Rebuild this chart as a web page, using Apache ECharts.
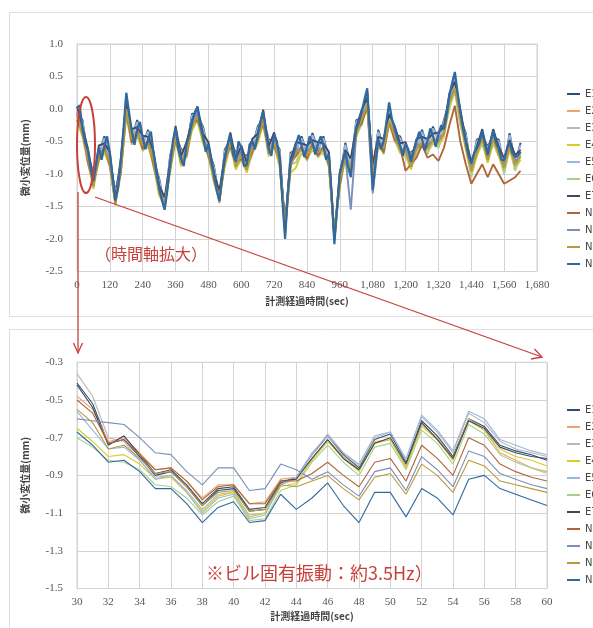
<!DOCTYPE html>
<html>
<head>
<meta charset="utf-8">
<script src="https://cdn.jsdelivr.net/npm/echarts/dist/echarts.min.js"></script>
<style>
html,body{margin:0;padding:0;background:#fff;overflow:hidden}
#chart{width:640px;height:628px}
</style>
</head>
<body>
<div id="chart"></div>
<script>
// Sensor channels and their line colours
const channelNames = ['E1','E2','E3','E4','E5','E6','E7','N1','N2','N3','N4'];
const channelColors = ['#2c4d75','#f0a36a','#b8b8b8','#d8cc2a','#9ab7de','#a8cf8c','#3b4a63','#b0643a','#7d8fb8','#b89a3c','#31699f'];

// Whole record in mm; N4 is logged every 10 s, the other channels every 20 s
const overviewSteps = [20,20,20,20,20,20,20,20,20,20,10];
const overviewE1 = [-0.09,-0.17,-0.74,-0.97,-0.69,-0.42,-0.79,-1.27,-0.89,0.18,
-0.44,-0.17,-0.54,-0.32,-0.79,-1.07,-1.50,-0.72,-0.39,-0.62,
-0.64,-0.07,-0.09,-0.27,-0.64,-0.87,-1.39,-0.62,-0.49,-0.67,
-0.69,-0.72,-0.59,-0.27,-0.14,-0.47,-0.49,-0.62,-1.90,-0.67,
-0.64,-0.42,-0.69,-0.37,-0.64,-0.42,-0.79,-2.02,-1.09,-0.52,
-0.89,-0.17,-0.14,0.26,-0.99,-0.32,-0.59,0.03,-0.39,-0.42,
-0.64,-0.67,-0.59,-0.32,-0.59,-0.27,-0.49,-0.17,0.11,0.50,
-0.14,-0.37,-0.94,-0.47,-0.44,-0.57,-0.44,-0.47,-0.89,-0.37,
-0.84,-0.52];
const overviewE2 = [-0.15,-0.31,-0.80,-1.11,-0.75,-0.56,-0.85,-1.41,-0.95,-0.05,
-0.50,-0.31,-0.60,-0.46,-0.85,-1.21,-1.55,-0.86,-0.45,-0.76,
-0.70,-0.21,-0.15,-0.41,-0.70,-1.01,-1.45,-0.76,-0.55,-0.81,
-0.75,-0.86,-0.65,-0.41,-0.20,-0.61,-0.55,-0.76,-1.95,-0.81,
-0.70,-0.56,-0.75,-0.51,-0.70,-0.56,-0.85,-2.01,-1.15,-0.66,
-0.95,-0.31,-0.20,0.14,-1.05,-0.46,-0.65,-0.11,-0.45,-0.56,
-0.70,-0.81,-0.65,-0.46,-0.65,-0.41,-0.55,-0.31,0.05,0.39,
-0.20,-0.51,-1.00,-0.61,-0.50,-0.71,-0.50,-0.61,-0.95,-0.51,
-0.90,-0.66];
const overviewE3 = [-0.02,-0.27,-0.67,-1.07,-0.62,-0.52,-0.72,-1.37,-0.82,0.03,
-0.37,-0.27,-0.47,-0.42,-0.72,-1.17,-1.42,-0.82,-0.32,-0.72,
-0.57,-0.17,-0.02,-0.37,-0.57,-0.97,-1.32,-0.72,-0.42,-0.77,
-0.62,-0.82,-0.52,-0.37,-0.07,-0.57,-0.42,-0.72,-1.82,-0.77,
-0.57,-0.52,-0.62,-0.47,-0.57,-0.52,-0.72,-1.97,-1.02,-0.62,
-0.82,-0.27,-0.07,0.18,-0.92,-0.42,-0.52,-0.07,-0.32,-0.52,
-0.57,-0.77,-0.52,-0.42,-0.52,-0.37,-0.42,-0.27,0.18,0.43,
-0.07,-0.47,-0.87,-0.57,-0.37,-0.67,-0.37,-0.57,-0.82,-0.47,
-0.77,-0.62];
const overviewE4 = [-0.17,-0.43,-0.82,-1.23,-0.77,-0.68,-0.87,-1.45,-0.97,-0.13,
-0.52,-0.43,-0.62,-0.58,-0.87,-1.33,-1.50,-0.98,-0.47,-0.88,
-0.72,-0.33,-0.17,-0.53,-0.72,-1.13,-1.40,-0.88,-0.57,-0.93,
-0.77,-0.98,-0.67,-0.53,-0.22,-0.73,-0.57,-0.88,-1.80,-0.98,
-0.90,-0.68,-0.77,-0.63,-0.72,-0.68,-0.87,-1.90,-1.17,-0.78,
-0.97,-0.43,-0.22,0.02,-1.07,-0.58,-0.67,-0.23,-0.47,-0.68,
-0.72,-0.93,-0.67,-0.58,-0.67,-0.53,-0.57,-0.43,0.03,0.27,
-0.22,-0.63,-1.02,-0.73,-0.52,-0.83,-0.52,-0.73,-0.97,-0.63,
-0.92,-0.78];
const overviewE5 = [-0.07,-0.20,-0.72,-1.00,-0.67,-0.45,-0.77,-1.30,-0.87,0.10,
-0.42,-0.20,-0.52,-0.35,-0.77,-1.10,-1.47,-0.75,-0.37,-0.65,
-0.62,-0.10,-0.07,-0.30,-0.62,-0.90,-1.37,-0.65,-0.47,-0.70,
-0.67,-0.75,-0.57,-0.30,-0.12,-0.50,-0.47,-0.65,-1.87,-0.70,
-0.62,-0.45,-0.67,-0.40,-0.62,-0.45,-0.77,-1.90,-1.07,-0.55,
-0.87,-0.20,-0.12,0.25,-0.97,-0.35,-0.57,0.00,-0.37,-0.45,
-0.62,-0.70,-0.57,-0.35,-0.57,-0.30,-0.47,-0.20,0.13,0.50,
-0.12,-0.40,-0.92,-0.50,-0.42,-0.60,-0.42,-0.50,-0.87,-0.40,
-0.82,-0.55];
const overviewE6 = [-0.20,-0.35,-0.85,-1.15,-0.80,-0.60,-0.90,-1.45,-1.00,-0.05,
-0.55,-0.35,-0.65,-0.50,-0.90,-1.25,-1.52,-0.90,-0.50,-0.80,
-0.75,-0.25,-0.20,-0.45,-0.75,-1.05,-1.42,-0.80,-0.60,-0.85,
-0.80,-0.90,-0.70,-0.45,-0.25,-0.65,-0.60,-0.80,-1.75,-0.85,
-0.82,-0.60,-0.80,-0.55,-0.75,-0.60,-0.90,-1.85,-1.20,-0.70,
-1.00,-0.35,-0.25,0.10,-1.10,-0.50,-0.70,-0.15,-0.50,-0.60,
-0.75,-0.85,-0.70,-0.50,-0.70,-0.45,-0.60,-0.35,0.00,0.30,
-0.25,-0.55,-1.05,-0.65,-0.55,-0.75,-0.55,-0.65,-1.00,-0.55,
-0.95,-0.70];
const overviewE7 = [0.04,-0.28,-0.61,-1.08,-0.56,-0.53,-0.66,-1.38,-0.76,0.08,
-0.31,-0.28,-0.41,-0.43,-0.66,-1.18,-1.36,-0.83,-0.26,-0.73,
-0.51,-0.18,0.04,-0.38,-0.51,-0.98,-1.26,-0.73,-0.36,-0.78,
-0.56,-0.83,-0.46,-0.38,-0.01,-0.58,-0.36,-0.73,-1.76,-0.78,
-0.51,-0.53,-0.56,-0.48,-0.51,-0.53,-0.66,-1.98,-0.96,-0.63,
-0.76,-0.28,-0.01,0.17,-0.86,-0.43,-0.46,-0.08,-0.26,-0.53,
-0.51,-0.78,-0.46,-0.43,-0.46,-0.38,-0.36,-0.28,0.24,0.42,
-0.01,-0.48,-0.81,-0.58,-0.31,-0.68,-0.31,-0.58,-0.76,-0.48,
-0.71,-0.63];
const overviewN1 = [-0.17,-0.33,-0.82,-1.13,-0.77,-0.58,-0.87,-1.43,-0.97,-0.03,
-0.52,-0.33,-0.62,-0.48,-0.87,-1.23,-1.50,-0.88,-0.47,-0.78,
-0.72,-0.23,-0.17,-0.43,-0.72,-1.03,-1.40,-0.78,-0.57,-0.83,
-0.77,-0.88,-0.67,-0.43,-0.22,-0.63,-0.57,-0.78,-1.80,-0.83,
-0.72,-0.58,-0.77,-0.53,-0.72,-0.58,-0.87,-1.90,-1.17,-0.68,
-0.97,-0.33,-0.22,0.05,-1.07,-0.48,-0.67,-0.20,-0.47,-0.58,
-0.95,-0.85,-0.75,-0.55,-0.75,-0.70,-0.80,-0.60,-0.25,0.05,
-0.50,-0.85,-1.15,-1.00,-0.85,-1.05,-0.85,-1.00,-1.15,-1.10,
-1.05,-0.95];
const overviewN2 = [-0.05,-0.39,-0.70,-1.19,-0.65,-0.64,-0.75,-1.45,-0.85,-0.05,
-0.40,-0.39,-0.50,-0.54,-0.75,-1.29,-1.45,-0.94,-0.35,-0.84,
-0.60,-0.29,-0.05,-0.49,-0.60,-1.09,-1.35,-0.84,-0.45,-0.89,
-0.65,-0.94,-0.55,-0.49,-0.10,-0.69,-0.45,-0.84,-1.85,-0.89,
-0.60,-0.64,-0.65,-0.59,-0.60,-0.64,-0.75,-1.95,-1.05,-0.74,
-1.55,-0.39,-0.10,0.06,-1.30,-0.54,-0.55,-0.19,-0.35,-0.64,
-0.60,-0.89,-0.55,-0.54,-0.55,-0.49,-0.45,-0.39,0.15,0.31,
-0.10,-0.59,-0.90,-0.69,-0.40,-0.79,-0.40,-0.69,-0.85,-0.59,
-0.80,-0.74];
const overviewN3 = [-0.11,-0.38,-0.76,-1.18,-0.71,-0.63,-0.81,-1.48,-0.91,0.00,
-0.46,-0.38,-0.56,-0.53,-0.81,-1.28,-1.48,-0.93,-0.41,-0.83,
-0.66,-0.28,-0.11,-0.48,-0.66,-1.08,-1.38,-0.83,-0.51,-0.88,
-0.71,-0.93,-0.61,-0.48,-0.16,-0.68,-0.51,-0.83,-1.82,-0.88,
-0.66,-0.63,-0.71,-0.58,-0.66,-0.63,-0.81,-1.92,-1.11,-0.73,
-0.91,-0.38,-0.16,0.07,-1.01,-0.53,-0.61,-0.18,-0.41,-0.63,
-0.66,-0.88,-0.61,-0.53,-0.61,-0.48,-0.51,-0.38,0.09,0.32,
-0.16,-0.58,-0.96,-0.68,-0.46,-0.78,-0.46,-0.68,-0.91,-0.58,
-0.86,-0.73];
const overviewN4 = [0.01,0.06,-0.31,-0.52,-0.64,-0.92,-1.11,-0.85,-0.59,-0.78,
-0.56,-0.42,-0.69,-1.05,-1.41,-1.22,-0.79,-0.30,0.25,-0.05,
-0.34,-0.55,-0.31,-0.20,-0.44,-0.62,-0.46,-0.35,-0.69,-0.98,
-1.21,-1.40,-1.55,-1.25,-0.86,-0.50,-0.29,-0.62,-0.76,-0.88,
-0.54,-0.40,-0.21,-0.05,0.03,-0.25,-0.41,-0.66,-0.54,-0.80,
-1.01,-1.25,-1.42,-1.05,-0.76,-0.55,-0.39,-0.70,-0.81,-0.50,
-0.59,-0.88,-0.86,-0.55,-0.49,-0.62,-0.41,-0.20,-0.04,-0.35,
-0.61,-0.72,-0.39,-0.50,-0.76,-1.40,-2.00,-1.30,-0.81,-0.72,
-0.54,-0.40,-0.56,-0.74,-0.59,-0.42,-0.51,-0.70,-0.54,-0.42,
-0.56,-0.78,-0.69,-1.30,-2.08,-1.50,-0.99,-0.82,-0.66,-0.90,
-1.05,-0.60,-0.31,-0.20,-0.04,0.15,0.32,-0.40,-1.25,-0.85,
-0.46,-0.62,-0.49,-0.20,0.10,-0.15,-0.29,-0.45,-0.56,-0.72,
-0.54,-0.62,-0.81,-0.64,-0.49,-0.35,-0.46,-0.64,-0.49,-0.30,
-0.41,-0.58,-0.39,-0.25,-0.31,-0.10,0.21,0.40,0.57,0.25,
-0.04,-0.30,-0.51,-0.72,-0.84,-0.68,-0.61,-0.52,-0.34,-0.55,
-0.71,-0.50,-0.34,-0.52,-0.61,-0.78,-0.79,-0.62,-0.51,-0.68,
-0.74,-0.72,-0.66];

// Close-up 30–60 s: one reading per second (mm)
const detailStart = 30;
const detailE1 = [-0.41,-0.52,-0.73,-0.71,-0.80,-0.90,-0.88,-0.96,-1.06,-0.98,-0.97,-1.09,-1.08,-0.94,-0.91,-0.79,-0.69,-0.79,-0.86,-0.71,-0.68,-0.83,-0.61,-0.69,-0.80,-0.60,-0.64,-0.74,-0.77,-0.79,-0.82];
const detailE2 = [-0.48,-0.55,-0.72,-0.70,-0.78,-0.87,-0.86,-0.93,-1.02,-0.95,-0.95,-1.05,-1.04,-0.92,-0.91,-0.81,-0.71,-0.80,-0.87,-0.73,-0.71,-0.85,-0.63,-0.70,-0.81,-0.60,-0.66,-0.78,-0.82,-0.86,-0.88];
const detailE3 = [-0.36,-0.48,-0.70,-0.72,-0.82,-0.91,-0.90,-0.98,-1.08,-1.00,-0.99,-1.11,-1.10,-0.95,-0.92,-0.79,-0.68,-0.78,-0.85,-0.70,-0.67,-0.82,-0.59,-0.67,-0.78,-0.57,-0.62,-0.72,-0.76,-0.78,-0.80];
const detailE4 = [-0.65,-0.72,-0.80,-0.79,-0.84,-0.92,-0.91,-0.99,-1.09,-1.01,-0.99,-1.12,-1.10,-0.96,-0.94,-0.82,-0.72,-0.81,-0.88,-0.72,-0.71,-0.86,-0.64,-0.71,-0.82,-0.61,-0.66,-0.76,-0.80,-0.82,-0.85];
const detailE5 = [-0.56,-0.66,-0.76,-0.75,-0.82,-0.92,-0.90,-0.99,-1.10,-1.02,-1.00,-1.13,-1.11,-0.95,-0.91,-0.78,-0.69,-0.78,-0.84,-0.69,-0.67,-0.81,-0.58,-0.66,-0.77,-0.56,-0.60,-0.71,-0.74,-0.77,-0.79];
const detailE6 = [-0.70,-0.75,-0.82,-0.83,-0.87,-0.95,-0.96,-1.02,-1.11,-1.04,-1.01,-1.14,-1.13,-0.98,-0.95,-0.83,-0.74,-0.83,-0.90,-0.75,-0.73,-0.87,-0.66,-0.73,-0.84,-0.63,-0.68,-0.79,-0.83,-0.86,-0.89];
const detailE7 = [-0.42,-0.54,-0.74,-0.69,-0.79,-0.89,-0.87,-0.95,-1.05,-0.97,-0.96,-1.08,-1.07,-0.93,-0.92,-0.81,-0.71,-0.81,-0.87,-0.73,-0.70,-0.84,-0.62,-0.71,-0.81,-0.61,-0.65,-0.75,-0.78,-0.80,-0.81];
const detailN1 = [-0.50,-0.57,-0.73,-0.71,-0.79,-0.87,-0.86,-0.93,-1.03,-0.96,-0.95,-1.05,-1.05,-0.93,-0.93,-0.89,-0.83,-0.90,-0.96,-0.83,-0.81,-0.93,-0.74,-0.81,-0.90,-0.70,-0.74,-0.84,-0.88,-0.91,-0.93];
const detailN2 = [-0.60,-0.61,-0.62,-0.63,-0.70,-0.78,-0.79,-0.88,-0.95,-0.86,-0.86,-0.98,-0.97,-0.84,-0.87,-0.92,-0.88,-0.95,-1.01,-0.88,-0.86,-0.98,-0.80,-0.87,-0.96,-0.77,-0.80,-0.89,-0.92,-0.95,-0.97];
const detailN3 = [-0.55,-0.62,-0.76,-0.74,-0.81,-0.89,-0.88,-0.96,-1.06,-0.99,-0.98,-1.09,-1.08,-0.95,-0.96,-0.93,-0.90,-0.97,-1.03,-0.91,-0.89,-1.00,-0.84,-0.90,-0.99,-0.82,-0.85,-0.93,-0.95,-0.97,-0.99];
const detailN4 = [-0.67,-0.74,-0.83,-0.82,-0.88,-0.97,-0.97,-1.05,-1.15,-1.07,-1.04,-1.15,-1.14,-1.00,-1.08,-1.02,-0.94,-1.06,-1.15,-0.99,-0.99,-1.12,-0.97,-1.02,-1.11,-0.92,-0.90,-0.97,-1.00,-1.03,-1.06];

// Axis ranges and ticks
const overviewX = {min: 0, max: 1680, interval: 120};
const overviewY = {min: -2.5, max: 1.0, interval: 0.5};
const detailX = {min: 30, max: 60, interval: 2};
const detailY = {min: -1.5, max: -0.3, interval: 0.2};

const axisTitleX = '計測経過時間(sec)';
const axisTitleY = '微小変位量(mm)';
const noteZoom = '（時間軸拡大）';
const noteFreq = '※ビル固有振動：約3.5Hz）';

const overviewData = [overviewE1, overviewE2, overviewE3, overviewE4, overviewE5, overviewE6, overviewE7, overviewN1, overviewN2, overviewN3, overviewN4];
const detailData = [detailE1, detailE2, detailE3, detailE4, detailE5, detailE6, detailE7, detailN1, detailN2, detailN3, detailN4];

const chart = echarts.init(document.getElementById('chart'), null, {renderer: 'canvas'});

const numFont = 'Liberation Serif';
const jpFont = '"Noto Sans CJK JP", sans-serif';
const gridLine = '#d3d3d3';

function thousands(v) {
  const n = Math.round(v);
  if (n >= 1000) return Math.floor(n / 1000) + ',' + String(n % 1000).padStart(3, '0');
  return String(n);
}

function xAxisOf(gridIndex, range, nameGap, fmt) {
  return {
    type: 'value', gridIndex, min: range.min, max: range.max, interval: range.interval,
    name: axisTitleX, nameLocation: 'middle', nameGap,
    nameTextStyle: {fontFamily: jpFont, fontSize: 10, fontWeight: 'bold', color: '#444'},
    axisLine: {show: true, lineStyle: {color: gridLine}},
    axisTick: {show: false},
    axisLabel: {margin: 8, fontFamily: numFont, fontSize: 11, color: '#555', formatter: fmt},
    splitLine: {show: true, lineStyle: {color: gridLine, width: 1}}
  };
}
function yAxisOf(gridIndex, range) {
  return {
    type: 'value', gridIndex, min: range.min, max: range.max, interval: range.interval,
    name: axisTitleY, nameLocation: 'middle', nameRotate: 90, nameGap: 47,
    nameTextStyle: {fontFamily: jpFont, fontSize: 10, fontWeight: 'bold', color: '#444'},
    axisLine: {show: true, lineStyle: {color: gridLine}},
    axisTick: {show: false},
    axisLabel: {margin: 14, fontFamily: numFont, fontSize: 11, color: '#555', formatter: v => v.toFixed(1)},
    splitLine: {show: true, lineStyle: {color: gridLine, width: 1}}
  };
}
function legendOf(top) {
  return {
    data: channelNames, orient: 'vertical', left: 567, top, padding: 0,
    itemWidth: 13, itemHeight: 2, itemGap: 5, itemTextGap: 2,
    icon: 'rect',
    textStyle: {fontFamily: 'DejaVu Sans', fontSize: 10, color: '#444', lineHeight: 12}
  };
}

const series = [];
channelNames.forEach((name, k) => {
  series.push({
    type: 'line', name, xAxisIndex: 0, yAxisIndex: 0,
    data: overviewData[k].map((v, i) => [i * overviewSteps[k], v]),
    symbol: 'none', color: channelColors[k],
    lineStyle: {width: k === 10 ? 2.2 : 1.9, color: channelColors[k]}
  });
});
channelNames.forEach((name, k) => {
  series.push({
    type: 'line', name, xAxisIndex: 1, yAxisIndex: 1,
    data: detailData[k].map((v, i) => [detailStart + i, v]),
    symbol: 'none', color: channelColors[k],
    lineStyle: {width: 1.1, color: channelColors[k]}
  });
});

const red = '#c8403a';
const frameColor = '#dedede';

chart.setOption({
  animation: false,
  backgroundColor: '#fff',
  grid: [
    {left: 77, width: 460, top: 44, height: 227.5, show: true, borderColor: gridLine, borderWidth: 1},
    {left: 77, width: 470, top: 362.3, height: 226.2, show: true, borderColor: gridLine, borderWidth: 1}
  ],
  xAxis: [xAxisOf(0, overviewX, 25, thousands), xAxisOf(1, detailX, 23, v => String(Math.round(v)))],
  yAxis: [yAxisOf(0, overviewY), yAxisOf(1, detailY)],
  legend: [legendOf(88), legendOf(404)],
  series,
  graphic: [
    {type: 'rect', z: -10, silent: true, shape: {x: 9.5, y: 12.5, width: 640, height: 304}, style: {fill: 'none', stroke: frameColor, lineWidth: 1}},
    {type: 'rect', z: -10, silent: true, shape: {x: 9.5, y: 329.5, width: 640, height: 320}, style: {fill: 'none', stroke: frameColor, lineWidth: 1}},
    {type: 'ellipse', z: 100, silent: true, shape: {cx: 86, cy: 145, rx: 9, ry: 48}, style: {fill: 'none', stroke: red, lineWidth: 2}},
    {type: 'line', z: 100, silent: true, shape: {x1: 78, y1: 192, x2: 78, y2: 353}, style: {stroke: red, lineWidth: 1.3}},
    {type: 'polyline', z: 100, silent: true, shape: {points: [[73.5, 343], [78, 353], [82.5, 343]]}, style: {fill: 'none', stroke: red, lineWidth: 1.3}},
    {type: 'line', z: 100, silent: true, shape: {x1: 95, y1: 197, x2: 542, y2: 357}, style: {stroke: red, lineWidth: 1.3}},
    {type: 'polyline', z: 100, silent: true, shape: {points: [[531, 359], [542, 357], [534.5, 349]]}, style: {fill: 'none', stroke: red, lineWidth: 1.3}},
    {type: 'text', z: 100, silent: true, style: {x: 95, y: 254, text: noteZoom, fill: red, font: '16px "Noto Sans CJK JP"', verticalAlign: 'middle', align: 'left'}},
    {type: 'text', z: 100, silent: true, style: {x: 206, y: 573, text: noteFreq, fill: red, font: '18px "Noto Sans CJK JP"', verticalAlign: 'middle', align: 'left'}}
  ]
});
</script>
</body>
</html>
